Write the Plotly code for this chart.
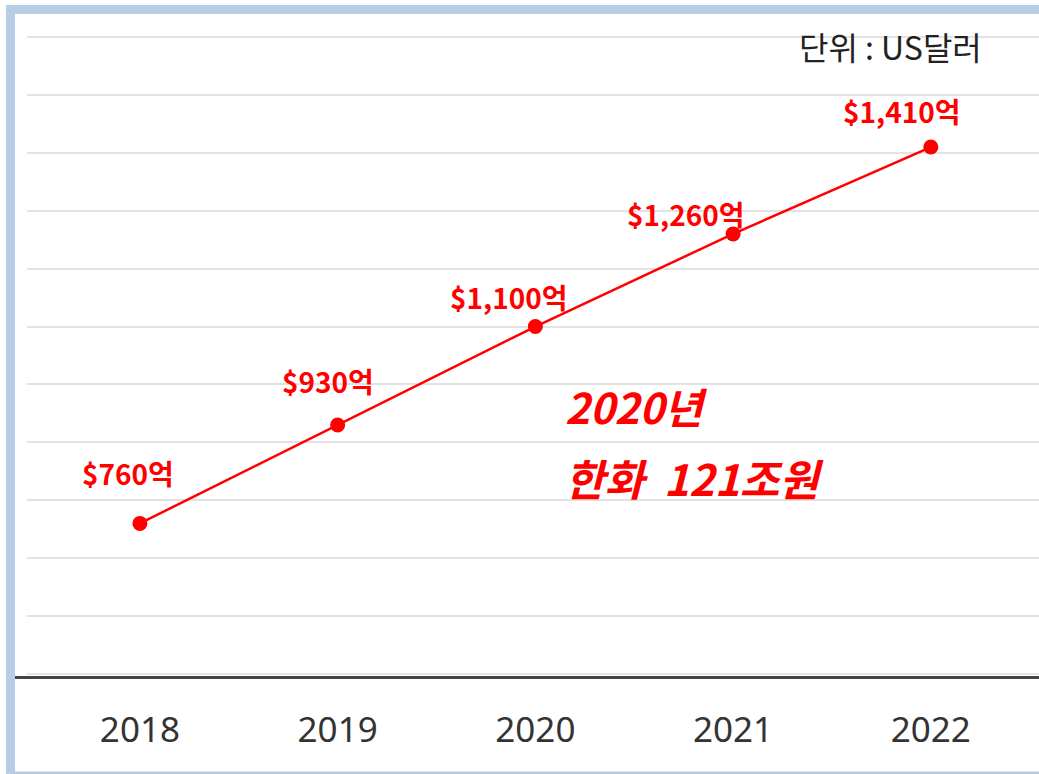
import plotly.graph_objects as go

# ---- data ----
years = ["2018", "2019", "2020", "2021", "2022"]
values = [760, 930, 1100, 1260, 1410]
labels = ["$760억", "$930억", "$1,100억", "$1,260억", "$1,410억"]
unit_text = "단위 : US달러"
note_line1 = "2020년"
note_line2 = "한화  121조원"

# ---- layout geometry (pixels) ----
W, H = 1039, 774
ML, MR, MT, MB = 27, 0, 35, 98
PW, PH = W - ML - MR, H - MT - MB

def px_x(px):
    return (px - ML) / PW

def px_y(py):
    return (H - MB - py) / PH

RED = "#ff0000"
BORDER = "#b8cce4"
KFONT = "Noto Sans CJK KR"

# label offsets (pixels) relative to their points
label_dx = [-12, -10, -27, -48, -29]
label_dy = [50, 44, 30, 20, 36]

fig = go.Figure()
fig.add_trace(go.Scatter(
    x=years, y=values, mode="lines+markers",
    line=dict(color=RED, width=2.5),
    marker=dict(color=RED, size=15),
    hoverinfo="skip", showlegend=False,
))

for i, (v, t, dx, dy) in enumerate(zip(values, labels, label_dx, label_dy)):
    fig.add_annotation(
        x=i, y=v, xref="x", yref="y",
        text="<b>" + t.replace("$", "&#36;") + "</b>", showarrow=False,
        xanchor="center", yanchor="middle", xshift=dx, yshift=dy,
        font=dict(family=KFONT, size=28, color=RED),
    )

# unit label
fig.add_annotation(
    x=px_x(984), y=px_y(46), xref="paper", yref="paper",
    text=unit_text, showarrow=False, xanchor="right", yanchor="middle",
    font=dict(family=KFONT, size=32, color="#222222"),
)
# italic notes
fig.add_annotation(
    x=px_x(563), y=px_y(405), xref="paper", yref="paper",
    text=f"<b><i>{note_line1}</i></b>", showarrow=False,
    xanchor="left", yanchor="middle",
    font=dict(family=KFONT, size=42, color=RED),
)
fig.add_annotation(
    x=px_x(563), y=px_y(477), xref="paper", yref="paper",
    text=f"<b><i>{note_line2}</i></b>", showarrow=False,
    xanchor="left", yanchor="middle",
    font=dict(family=KFONT, size=43, color=RED),
)

shapes = [
    # dark baseline
    dict(type="line", xref="paper", yref="paper",
         x0=px_x(15), x1=1, y0=px_y(677.5), y1=px_y(677.5),
         line=dict(color="#444444", width=3)),
    # frame (left, top, bottom)
    dict(type="rect", xref="paper", yref="paper",
         x0=px_x(6), x1=px_x(15), y0=px_y(774), y1=px_y(5),
         fillcolor=BORDER, line=dict(width=0), layer="above"),
    dict(type="rect", xref="paper", yref="paper",
         x0=px_x(6), x1=px_x(1039), y0=px_y(14), y1=px_y(5),
         fillcolor=BORDER, line=dict(width=0), layer="above"),
    dict(type="rect", xref="paper", yref="paper",
         x0=px_x(6), x1=px_x(1039), y0=px_y(774), y1=px_y(771.5),
         fillcolor=BORDER, line=dict(width=0), layer="above"),
]

fig.update_layout(
    width=W, height=H,
    margin=dict(l=ML, r=MR, t=MT, b=MB),
    paper_bgcolor="white", plot_bgcolor="white",
    shapes=shapes,
    xaxis=dict(
        type="category", range=[-0.571, 4.547],
        showgrid=False, showline=False, zeroline=False,
        ticks="outside", ticklen=23, tickcolor="rgba(0,0,0,0)",
        tickfont=dict(family="Noto Sans", size=35, color="#333333"),
        fixedrange=True,
    ),
    yaxis=dict(
        range=[496.5, 1603.5], dtick=100, tick0=500,
        showgrid=True, gridcolor="#e3e3e3", gridwidth=2,
        showticklabels=False, zeroline=False, showline=False,
        fixedrange=True,
    ),
)

fig.write_html(
    "out.html",
    config={"displayModeBar": False},
    post_script="document.body.style.margin='0';document.body.style.overflow='hidden';",
)
